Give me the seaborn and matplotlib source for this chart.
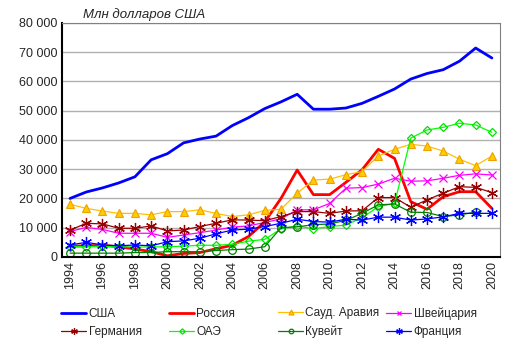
import numpy as np
import pandas as pd
import matplotlib
matplotlib.use("Agg")
import matplotlib.pyplot as plt
import seaborn as sns

years = list(range(1994, 2021))

usa = [20000, 22200, 23600, 25300, 27400, 33200, 35300, 39000, 40300, 41300, 44900, 47600, 50700, 53000,
       55600, 50500, 50500, 50900, 52500, 54900, 57400, 60800, 62700, 64000, 66900, 71400, 68000]
russia = [3700, 3800, 4000, 3500, 2700, 1800, 400, 1200, 1500, 2800, 4000, 7000, 12000, 20000,
          29700, 21300, 21300, 25500, 29800, 36800, 33700, 18900, 16300, 20600, 22300, 22300, 16600]
saudi = [18000, 16600, 15700, 14900, 14900, 14400, 15500, 15500, 16100, 14900, 13800, 14400, 15900, 16300,
         21800, 26300, 26600, 28100, 29200, 34500, 36800, 38500, 37900, 36200, 33400, 31200, 34500]
swiss = [8700, 10100, 9400, 8100, 8100, 8100, 6700, 7500, 8300, 9200, 10200, 10600, 11800, 13000,
         16100, 16100, 18300, 23500, 23700, 24900, 26900, 25900, 26000, 26900, 27900, 28400, 28000]
germany = [9200, 11500, 11300, 9800, 9800, 10600, 8900, 9200, 10400, 11500, 12700, 12600, 12400, 13800,
           15500, 15500, 14900, 15700, 15800, 20300, 20300, 17000, 19500, 21800, 24000, 23800, 22000]
uae = [3500, 3500, 3600, 3500, 3400, 3400, 3500, 3700, 4000, 4000, 4300, 5400, 6000, 9600,
       10600, 9600, 10400, 10900, 13400, 17200, 18300, 40600, 43400, 44300, 45700, 45100, 42600]
kuwait = [1300, 1300, 1300, 1300, 1500, 1500, 1800, 1800, 1800, 2200, 2500, 2700, 3500, 10000,
          10300, 11000, 11300, 12500, 14900, 17800, 18100, 15300, 15200, 13800, 14400, 15300, np.nan]
france = [4100, 5000, 4100, 3800, 4100, 3800, 5200, 5500, 6400, 7900, 9200, 9500, 10400, 11500,
          12900, 12100, 11900, 12900, 12600, 13600, 13600, 12600, 13000, 13700, 14900, 14900, 14900]

asterisk = (6, 2, 0)
series = [
    ("США", usa, dict(color="#0000FF", lw=2.0)),
    ("Россия", russia, dict(color="#FF0000", lw=2.0)),
    ("Сауд. Аравия", saudi, dict(color="#FFC000", lw=0.9, marker="^", ms=6, mfc="#FFCC00", mec="#F0A000", mew=0.8)),
    ("Швейцария", swiss, dict(color="#FF00FF", lw=0.9, marker="x", ms=5.5, mec="#FF00FF", mew=0.9)),
    ("Германия", germany, dict(color="#990000", lw=0.9, marker=asterisk, ms=8, mec="#990000", mew=0.9)),
    ("ОАЭ", uae, dict(color="#00FF00", lw=0.9, marker="D", ms=4.5, mfc="none", mec="#00E000", mew=0.9)),
    ("Кувейт", kuwait, dict(color="#008000", lw=0.9, marker="o", ms=5.5, mfc="none", mec="#008000", mew=0.9)),
    ("Франция", france, dict(color="#0000FF", lw=0.9, marker=asterisk, ms=8, mec="#0000FF", mew=0.9)),
]

sns.set_style("white")
plt.rcParams["font.family"] = ["Liberation Sans", "DejaVu Sans"]

fig = plt.figure(figsize=(5.16, 3.52), dpi=100)
ax = fig.add_axes([0.120, 0.270, 0.849, 0.665])

for name, vals, st in series:
    df = pd.DataFrame({"year": years, "value": vals})
    st = dict(st)
    color = st.pop("color")
    sns.lineplot(data=df, x="year", y="value", ax=ax, color=color, label=name, **st)

ax.set_xlim(1993.5, 2020.5)
ax.set_ylim(0, 80000)
ax.set_yticks(range(0, 80001, 10000))
ax.set_yticklabels([f"{v:,}".replace(",", " ") for v in range(0, 80001, 10000)], fontsize=9)
ax.set_xticks(years[::2])
ax.set_xticklabels([str(y) for y in years[::2]], rotation=90, fontsize=9)
ax.set_xlabel("")
ax.set_ylabel("")
ax.yaxis.grid(True, color="#B0B0B0", lw=1)
ax.set_axisbelow(True)
for s in ["top", "right"]:
    ax.spines[s].set_color("#808080")
for s in ["left", "bottom"]:
    ax.spines[s].set_color("black")
    ax.spines[s].set_linewidth(1.5)
ax.tick_params(axis="both", length=0, pad=3)

ax.text(0.048, 1.01, "Млн долларов США", transform=ax.transAxes, fontsize=9.5,
        style="italic", ha="left", va="bottom")

handles, labels = ax.get_legend_handles_labels()
ax.get_legend().remove()
# four equally spaced legend columns, two rows each (row-major like the original)
col_x = [0.103, 0.312, 0.523, 0.733]
for i, x0 in enumerate(col_x):
    fig.legend([handles[i], handles[i + 4]], [labels[i], labels[i + 4]],
               loc="lower left", bbox_to_anchor=(x0, 0.015), ncol=1, frameon=False,
               fontsize=8.5, handlelength=2.1, handletextpad=0.2, labelspacing=0.55,
               markerscale=0.6, borderaxespad=0.3)

fig.savefig("out.png", dpi=100)
